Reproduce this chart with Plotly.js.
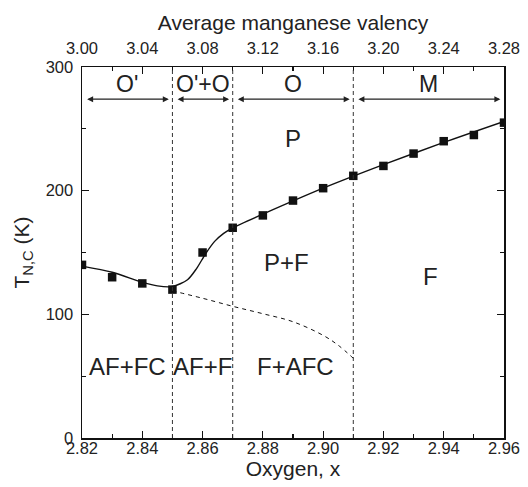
<!DOCTYPE html>
<html>
<head>
<meta charset="utf-8">
<script src="https://cdn.plot.ly/plotly-3.0.1.min.js"></script>
<style>html,body{margin:0;padding:0;background:#fff}#chart{width:528px;height:487px}</style>
</head>
<body>
<div id="chart"></div>
<script>
// Measured transition temperatures
const oxygenX = [2.82, 2.83, 2.84, 2.85, 2.86, 2.87, 2.88, 2.89, 2.90, 2.91, 2.92, 2.93, 2.94, 2.95, 2.96];
const tempT   = [140, 130, 125, 120, 150, 170, 180, 192, 202, 212, 220, 230, 240, 245, 255];

// Solid guide curve
const fitX = [2.82, 2.83, 2.84, 2.845, 2.85, 2.855, 2.858, 2.861, 2.864, 2.867, 2.87, 2.88, 2.90, 2.92, 2.94, 2.96];
const fitY = [139, 134, 126, 123, 122.5, 128, 137, 149, 159, 165.5, 170, 181, 202, 221, 239, 256];

// Dashed lower boundary curve
const dashX = [2.85, 2.86, 2.87, 2.88, 2.89, 2.90, 2.905, 2.91];
const dashY = [119, 113, 106.5, 100.5, 94, 83, 75, 64.5];

// Phase boundaries (oxygen content)
const boundaries = [2.85, 2.87, 2.91];
const xMin = 2.82, xMax = 2.96;

// Structural regions (top)
const structLabels = ["O'", "O'+O", "O", "M"];
const structEdges = [2.82, 2.85, 2.87, 2.91, 2.96];

// Magnetic phase labels
const phaseLabels = ["P", "P+F", "F", "AF+FC", "AF+F", "F+AFC"];
const phaseX = [2.89, 2.888, 2.9355, 2.835, 2.860, 2.8907];
const phaseY = [242, 142, 131, 57.5, 57.5, 57.5];

const arrowY = 274, structLabelY = 286;
const yMin = 0, yMax = 300;
const valMin = 3.00, valMax = 3.28;

const FONT = "Liberation Sans, Arial, sans-serif";
const TXT = "#222";

const traces = [
  {x: fitX, y: fitY, mode: 'lines', line: {color: '#111', width: 1.4, shape: 'spline', smoothing: 0.8}, hoverinfo: 'skip'},
  {x: dashX, y: dashY, mode: 'lines', line: {color: '#111', width: 1, dash: '4px,4px', shape: 'spline'}, hoverinfo: 'skip'},
  {x: oxygenX, y: tempT, mode: 'markers', marker: {symbol: 'square', size: 8.5, color: '#111'}},
  {x: [valMin, valMax], y: [null, null], xaxis: 'x2', mode: 'lines', hoverinfo: 'skip'}
];

const shapes = boundaries.map(b => ({
  type: 'line', xref: 'x', yref: 'y', x0: b, x1: b, y0: yMin, y1: yMax,
  line: {color: '#333', width: 1, dash: '4px,3px'}
}));

const annotations = [];
for (let i = 0; i < structLabels.length; i++) {
  const a = structEdges[i], b = structEdges[i + 1];
  annotations.push({
    x: b - 0.0012, y: arrowY, ax: a + 0.0012, ay: arrowY, xref: 'x', yref: 'y', axref: 'x', ayref: 'y',
    text: '', showarrow: true, arrowhead: 2, startarrowhead: 2, arrowside: 'end+start',
    arrowsize: 1, startarrowsize: 1, arrowwidth: 1.2, arrowcolor: '#222'
  });
  annotations.push({
    x: (a + b) / 2, y: structLabelY, xref: 'x', yref: 'y', text: structLabels[i], showarrow: false,
    font: {family: FONT, size: 23, color: TXT}
  });
}
for (let i = 0; i < phaseLabels.length; i++) {
  annotations.push({
    x: phaseX[i], y: phaseY[i], xref: 'x', yref: 'y', text: phaseLabels[i], showarrow: false,
    font: {family: FONT, size: 24, color: TXT}
  });
}

const axCommon = {
  showgrid: false, zeroline: false, showline: true, linecolor: '#111', linewidth: 1.5,
  ticks: 'inside', ticklen: 7, tickwidth: 1.2, tickcolor: '#111',
  tickfont: {family: FONT, size: 16.5, color: TXT}
};

const layout = {
  width: 528, height: 487,
  margin: {l: 82, r: 24, t: 67, b: 49},
  paper_bgcolor: '#fff', plot_bgcolor: '#fff',
  showlegend: false,
  font: {family: FONT, color: TXT},
  xaxis: Object.assign({}, axCommon, {
    range: [xMin, xMax], dtick: 0.02, tick0: 2.82, tickformat: '.2f', ticklabelstandoff: -5,
    minor: {dtick: 0.01, ticks: 'inside', ticklen: 4, tickcolor: '#111'},
    title: {text: 'Oxygen, x', font: {family: FONT, size: 21, color: TXT}, standoff: 0}
  }),
  xaxis2: Object.assign({}, axCommon, {
    overlaying: 'x', side: 'top', range: [valMin, valMax], dtick: 0.04, tick0: 3.0, tickformat: '.2f',
    ticklabelstandoff: 5,
    minor: {dtick: 0.02, ticks: 'inside', ticklen: 4, tickcolor: '#111'},
    title: {text: 'Average manganese valency', font: {family: FONT, size: 21, color: TXT}, standoff: 2}
  }),
  yaxis: Object.assign({}, axCommon, {
    range: [yMin, yMax], dtick: 100, mirror: 'ticks', ticklabelstandoff: 4,
    minor: {dtick: 50, ticks: 'inside', ticklen: 4, tickcolor: '#111'},
    title: {text: 'T<sub>N,C</sub> (K)', font: {family: FONT, size: 21, color: TXT}, standoff: 10}
  }),
  shapes: shapes,
  annotations: annotations
};

Plotly.newPlot('chart', traces, layout, {displayModeBar: false, staticPlot: true});
</script>
</body>
</html>
